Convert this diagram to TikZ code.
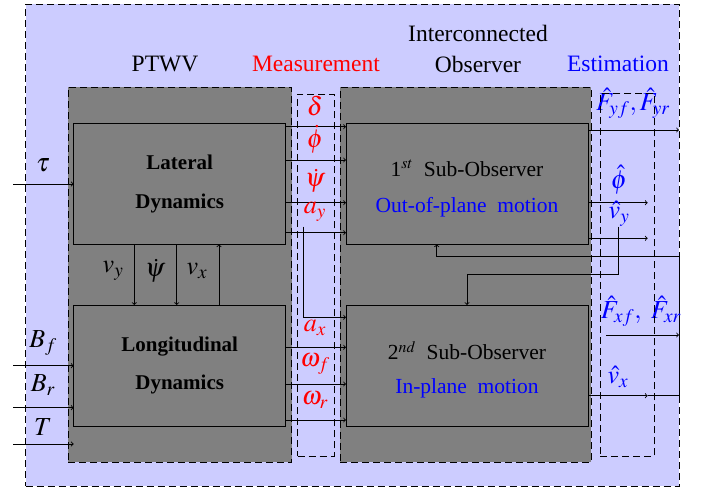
\documentclass[tikz,border=0pt]{standalone}
\usepackage{mathptmx}
\usepackage{fontspec}
\setmainfont{Liberation Serif}
\newfontfamily\serifface{Liberation Serif}
\definecolor{lav}{RGB}{204,204,255}
\definecolor{boxgray}{RGB}{128,128,128}
\begin{document}
\begin{tikzpicture}[x=1pt,y=-1pt,line width=0.9pt,
  dsh/.style={dash pattern=on 7pt off 4pt},
  frame/.style={draw,dsh,fill=lav,anchor=north west,inner sep=0pt,outer sep=0pt},
  grp/.style={draw,dsh,fill=boxgray,anchor=north west,inner sep=0pt,outer sep=0pt},
  dbox/.style={draw,dsh,anchor=north west,inner sep=0pt,outer sep=0pt},
  blk/.style={draw,fill=boxgray,anchor=north west,inner sep=0pt,outer sep=0pt,align=center,
    font=\serifface\bfseries\fontsize{21}{38.7}\selectfont},
  head/.style={font=\serifface\fontsize{23.5}{28}\selectfont,inner sep=0pt},
  txt/.style={font=\serifface\fontsize{21.5}{26}\selectfont,inner sep=0pt},
  ml/.style={font=\fontsize{26}{30}\selectfont,inner sep=0pt},
  rl/.style={ml,text=red},
  bl/.style={ml,text=blue},
  arr/.style={->}]
\useasboundingbox (0,0) rectangle (702,489);

% outer frame and groups
\node[frame,minimum width=653.5pt,minimum height=481.5pt] (outer) at (25.5,4.5) {};
\node[grp,minimum width=223.7pt,minimum height=374.7pt] (ptwv) at (68,87.3) {};
\node[grp,minimum width=251pt,minimum height=374.7pt] (obsgrp) at (340,87.3) {};
\node[dbox,minimum width=36.3pt,minimum height=362pt] (meas) at (297.7,94) {};

% headings
\node[head] (hint) at (478,33) {Interconnected};
\node[head] (hptwv) at (165,64) {PTWV};
\node[head,text=red] (hmeas) at (316,64) {Measurement};
\node[head] (hobs) at (478,64) {Observer};
\node[head,text=blue] (hest) at (618,64) {Estimation};

% blocks
\node[blk,minimum width=212pt,minimum height=121pt] (lat) at (73.7,123.3) {Lateral\\Dynamics};
\node[blk,minimum width=212pt,minimum height=121pt] (lon) at (73.7,305) {Longitudinal\\Dynamics};
\node[blk,minimum width=242pt,minimum height=121pt] (obs1) at (346,123.3) {};
\node[blk,minimum width=242pt,minimum height=121pt] (obs2) at (346,305) {};
\node[txt] (o1a) at (467,168) {1$^{st}$\ \ Sub-Observer};
\node[txt,text=blue] (o1b) at (467,207) {Out-of-plane\ \ motion};
\node[txt] (o2a) at (467,350.7) {2$^{nd}$\ \ Sub-Observer};
\node[txt,text=blue] (o2b) at (467,388.3) {In-plane\ \ motion};

% inputs
\coordinate (tauin) at (13,184);
\coordinate (bfin) at (13,365.7);
\coordinate (brin) at (13,407.7);
\coordinate (tin) at (13,444);
\draw[arr] (tauin) -- (lat.west |- tauin);
\draw[arr] (bfin) -- (lon.west |- bfin);
\draw[arr] (brin) -- (lon.west |- brin);
\draw[arr] (tin) -- (lon.west |- tin);
\node[ml] (ltau) at (43,165) {$\tau$};
\node[ml] (lbf) at (43,343) {$B_f$};
\node[ml] (lbr) at (43,385) {$B_r$};
\node[ml] (lt) at (43,427) {$T$};

% coupling between lateral and longitudinal
\draw[arr] ([xshift=60.6pt]lat.south west) -- ([xshift=60.6pt]lon.north west);
\draw[arr] ([xshift=103pt]lat.south west) -- ([xshift=103pt]lon.north west);
\draw[arr] ([xshift=145.3pt]lon.north west) -- ([xshift=145.3pt]lat.south west);
\node[ml] (lvy) at (113,271) {$v_y$};
\node[ml] (lpsi2) at (155,271) {$\dot\psi$};
\node[ml] (lvx) at (197,271) {$v_x$};

% measurements
\draw[arr] ([yshift=-3.4pt]lat.north east) -- ([yshift=-3.4pt]obs1.north west);
\draw[arr] ([yshift=-36.7pt]lat.north east) -- ([yshift=-36.7pt]obs1.north west);
\draw[arr] ([yshift=-79.4pt]lat.north east) -- ([yshift=-79.4pt]obs1.north west);
\draw[arr] ([yshift=-109.4pt]lat.north east) -- ([yshift=-109.4pt]obs1.north west);
\draw[arr] ([yshift=-42.3pt]lon.north east) -- ([yshift=-42.3pt]obs2.north west);
\draw[arr] ([yshift=-79pt]lon.north east) -- ([yshift=-79pt]obs2.north west);
\draw[arr] ([yshift=-115pt]lon.north east) -- ([yshift=-115pt]obs2.north west);
\coordinate (ayst) at (303.3,226.7);
\draw[arr] (ayst) |- ([yshift=-12.3pt]obs2.north west);
\node[rl] (ldelta) at (315,106) {$\delta$};
\node[rl] (lphi) at (315,139) {$\dot\phi$};
\node[rl] (lpsi) at (315,181) {$\dot\psi$};
\node[rl] (lay) at (315,212) {$a_y$};
\node[rl] (lax) at (315,328) {$a_x$};
\node[rl] (lwf) at (315,364) {$\omega_f$};
\node[rl] (lwr) at (315,400) {$\omega_r$};

% estimation outputs
\coordinate (fyend) at (679,130);
\coordinate (phiend) at (647.7,202.7);
\coordinate (vyend) at (647.7,238.3);
\coordinate (vyst) at (618.3,226.7);
\coordinate (vyturn) at (618.3,274.3);
\coordinate (fxst) at (606,335);
\coordinate (fxend) at (679,335);
\coordinate (vxend) at (647.7,395.7);
\coordinate (vxcorner) at (679,395.7);
\coordinate (vxtop) at (679,256.7);
\draw[arr] (obs1.east |- fyend) -- (fyend);
\draw[arr] (obs1.east |- phiend) -- (phiend);
\draw[arr] (obs1.east |- vyend) -- (vyend);
\draw[arr] (vyst) -- (vyturn) -| (obs2.north);
\draw[arr] (fxst) -- (fxend);
\draw[arr] (obs2.east |- vxend) -- (vxend);
\draw[arr] (vxend) -- (vxcorner) -- (vxtop) -| ([xshift=90.7pt]obs1.south west);
\node[bl] (lfy) at (633,103) {$\hat F_{yf},\hat F_{yr}$};
\node[bl] (lphih) at (619,180) {$\hat\phi$};
\node[bl] (lvyh) at (619,214) {$\hat v_y$};
\node[bl] (lfx) at (641,311.7) {$\hat F_{xf},\ \hat F_{xr}$};
\node[bl] (lvxh) at (618,376.7) {$\hat v_x$};

\node[dbox,minimum width=54.3pt,minimum height=362.7pt] (est) at (600,93.3) {};
\end{tikzpicture}
\end{document}
